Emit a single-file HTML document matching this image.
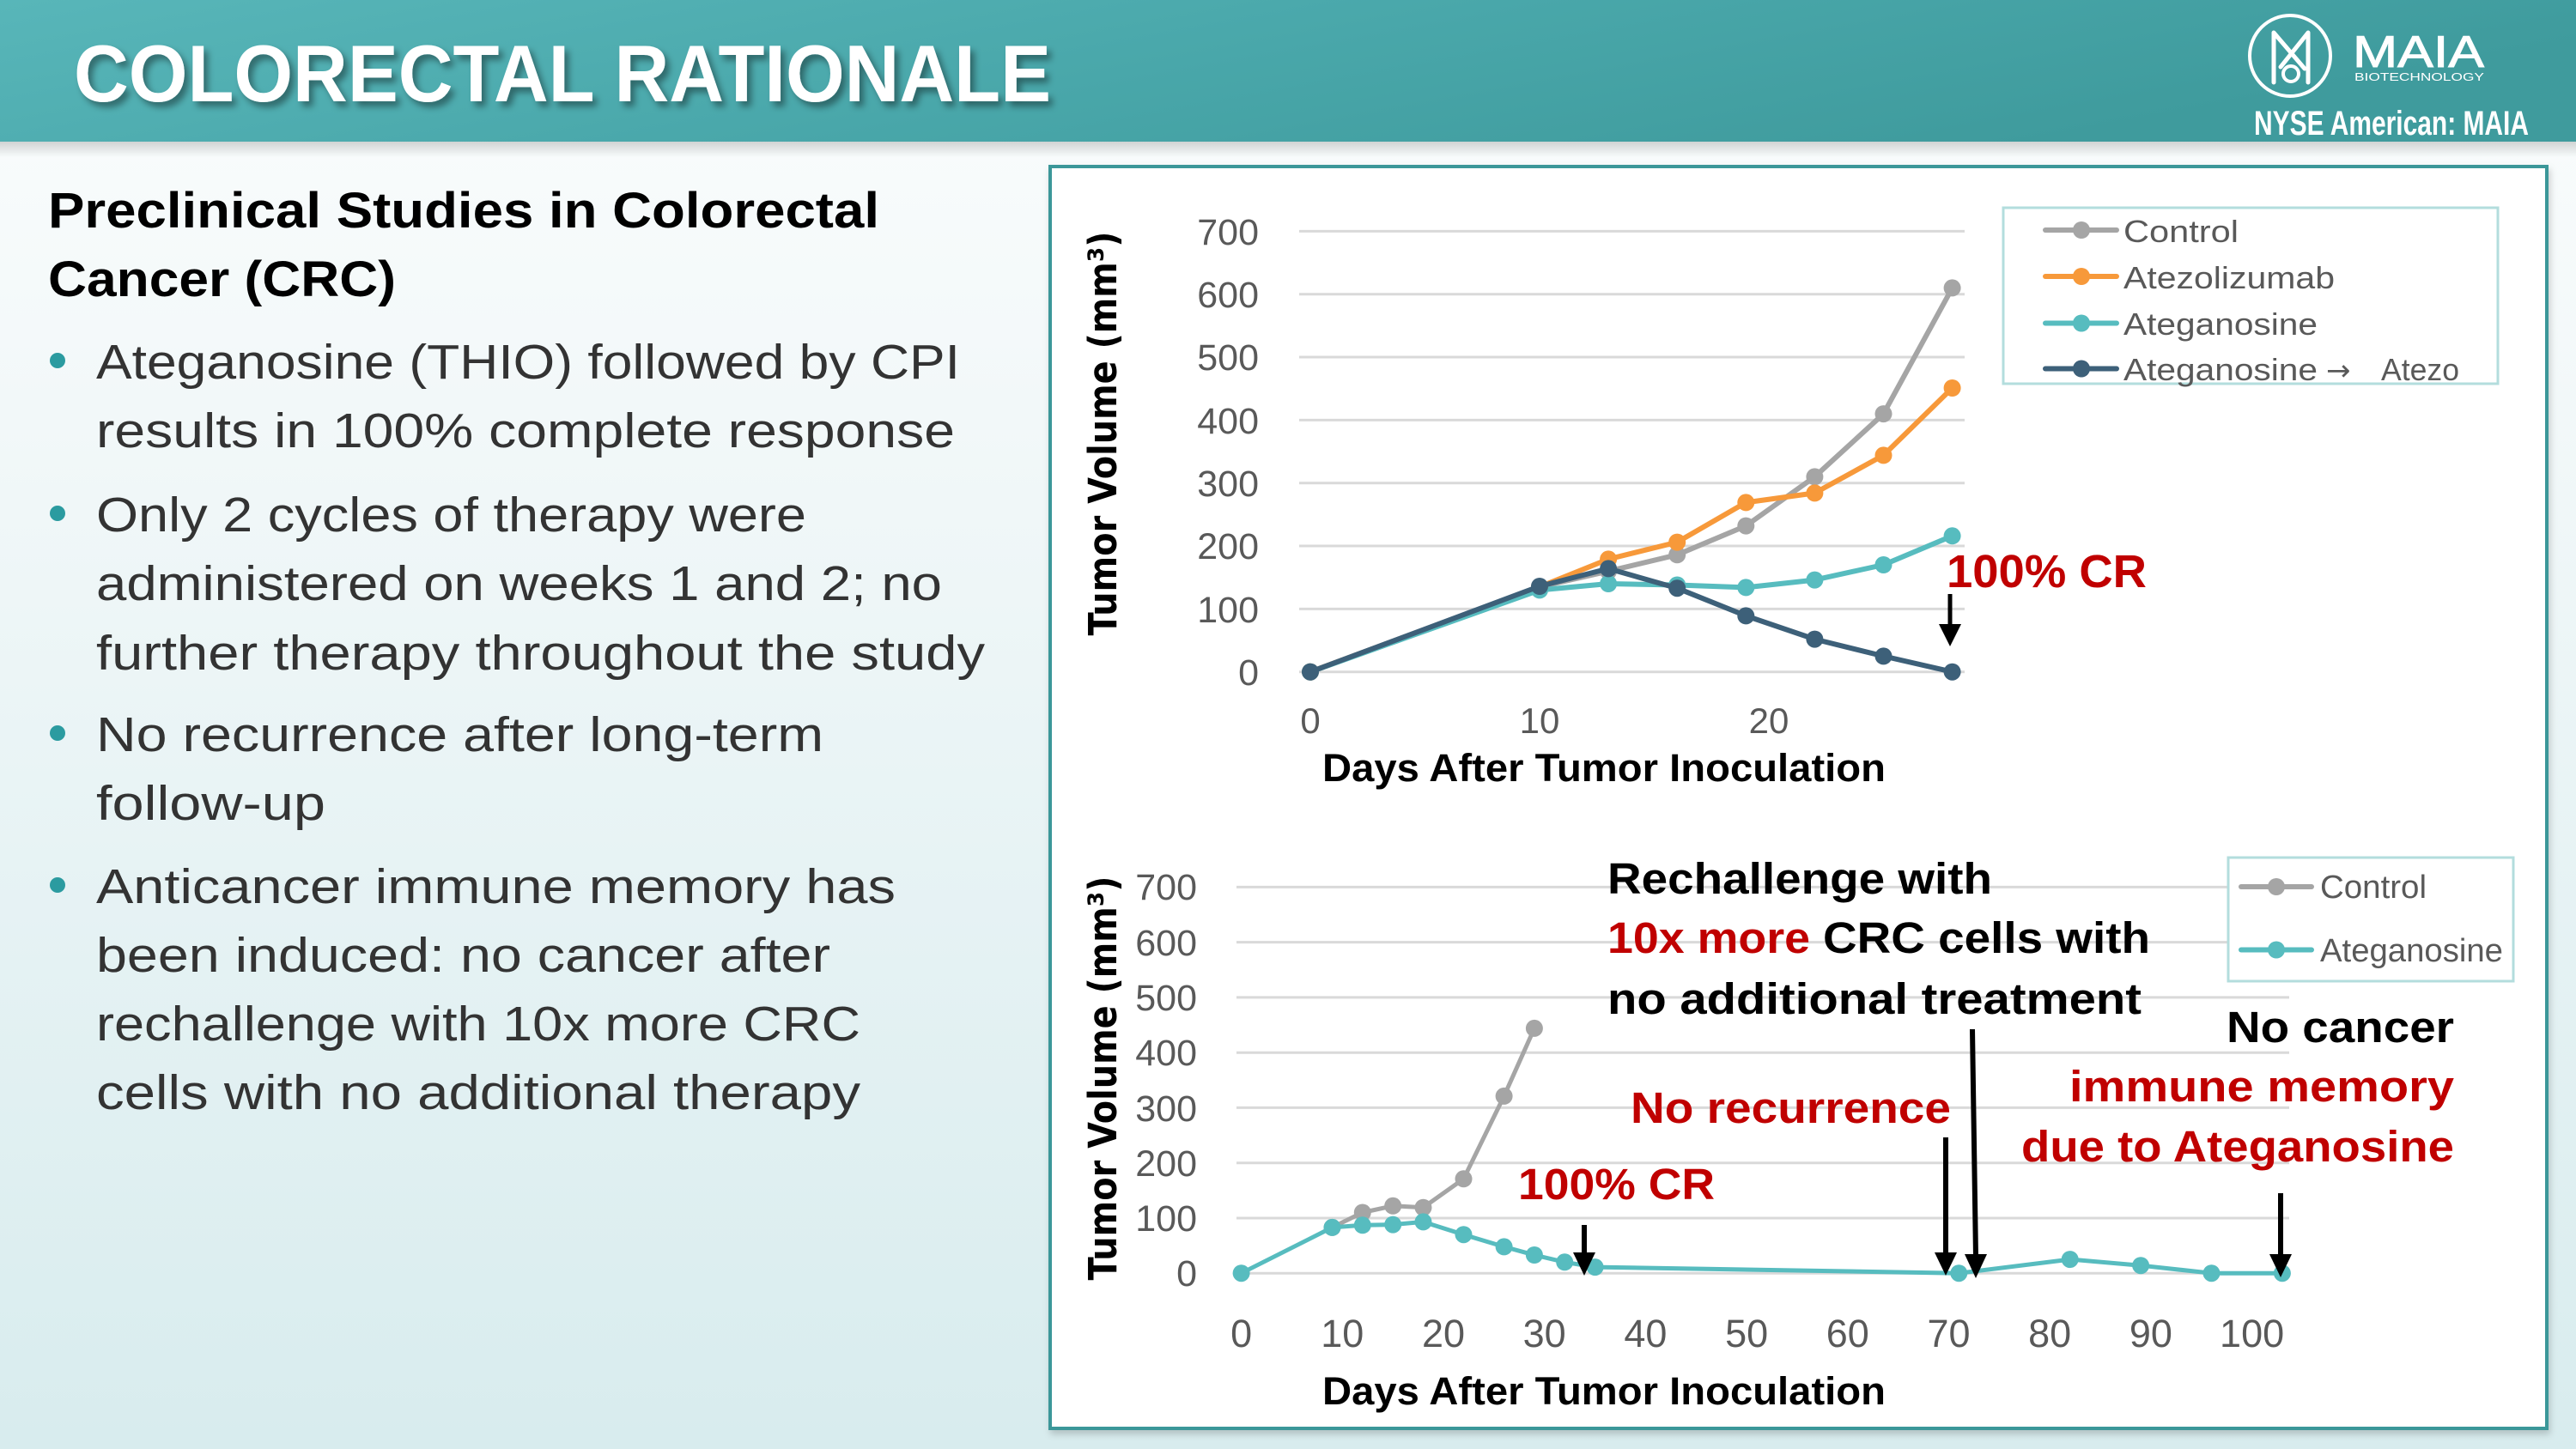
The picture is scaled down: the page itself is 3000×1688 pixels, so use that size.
<!DOCTYPE html>
<html>
<head>
<meta charset="utf-8">
<style>
html,body{margin:0;padding:0;width:3000px;height:1688px;overflow:hidden;background:#eef6f7;}
svg{display:block;}
text{font-family:"Liberation Sans",Arial,sans-serif;}
</style>
</head>
<body>
<svg width="3000" height="1688" viewBox="0 0 3000 1688" xmlns="http://www.w3.org/2000/svg">
<defs>
  <linearGradient id="bg" x1="0" y1="0" x2="0" y2="1">
    <stop offset="0" stop-color="#fbfdfd"/>
    <stop offset="0.35" stop-color="#f0f7f8"/>
    <stop offset="1" stop-color="#d8ecee"/>
  </linearGradient>
  <linearGradient id="hdr" x1="0" y1="0" x2="1" y2="0.3">
    <stop offset="0" stop-color="#58b6b9"/>
    <stop offset="0.5" stop-color="#4aa8ab"/>
    <stop offset="1" stop-color="#3f9b9d"/>
  </linearGradient>
  <linearGradient id="hsh" x1="0" y1="0" x2="0" y2="1">
    <stop offset="0" stop-color="#000" stop-opacity="0.16"/>
    <stop offset="1" stop-color="#000" stop-opacity="0"/>
  </linearGradient>
  <filter id="ts" x="-5%" y="-20%" width="110%" height="150%">
    <feDropShadow dx="5" dy="6" stdDeviation="4" flood-color="#000" flood-opacity="0.4"/>
  </filter>
  <filter id="bs" x="-2%" y="-2%" width="104%" height="104%">
    <feDropShadow dx="2" dy="5" stdDeviation="4" flood-color="#000" flood-opacity="0.18"/>
  </filter>
</defs>

<!-- page background -->
<rect x="0" y="0" width="3000" height="1688" fill="url(#bg)"/>

<!-- header -->
<rect x="0" y="0" width="3000" height="165" fill="url(#hdr)"/>
<rect x="0" y="165" width="3000" height="18" fill="url(#hsh)"/>
<text x="86" y="118" font-size="94" font-weight="bold" fill="#ffffff" textLength="1138" lengthAdjust="spacingAndGlyphs" filter="url(#ts)">COLORECTAL RATIONALE</text>

<!-- logo -->
<circle cx="2667" cy="65" r="47" fill="none" stroke="#ffffff" stroke-width="4"/>
<path d="M2648,96 L2648,38 L2684,80" fill="none" stroke="#ffffff" stroke-width="5" stroke-linejoin="round" stroke-linecap="round"/>
<path d="M2688,96 L2688,38 L2656,78" fill="none" stroke="#ffffff" stroke-width="5" stroke-linejoin="round" stroke-linecap="round"/>
<circle cx="2668" cy="86" r="9" fill="none" stroke="#ffffff" stroke-width="4"/>
<text x="2740" y="78" font-size="52" fill="#ffffff" stroke="#ffffff" stroke-width="1" textLength="153" lengthAdjust="spacingAndGlyphs">MAIA</text>
<text x="2742" y="94" font-size="13" fill="#ffffff" textLength="151" lengthAdjust="spacingAndGlyphs">BIOTECHNOLOGY</text>
<text x="2625" y="157" font-size="40" font-weight="bold" fill="#ffffff" textLength="320" lengthAdjust="spacingAndGlyphs">NYSE American: MAIA</text>

<!-- left text -->
<g font-weight="bold" fill="#000000" font-size="58">
  <text x="56" y="265" textLength="968" lengthAdjust="spacingAndGlyphs">Preclinical Studies in Colorectal</text>
  <text x="56" y="345" textLength="405" lengthAdjust="spacingAndGlyphs">Cancer (CRC)</text>
</g>
<g fill="#2b9ba0">
  <circle cx="67" cy="420" r="9"/>
  <circle cx="67" cy="598" r="9"/>
  <circle cx="67" cy="854" r="9"/>
  <circle cx="67" cy="1031" r="9"/>
</g>
<g fill="#333333" font-size="57">
  <text x="112" y="441" textLength="1006" lengthAdjust="spacingAndGlyphs">Ateganosine (THIO) followed by CPI</text>
  <text x="112" y="521" textLength="1000" lengthAdjust="spacingAndGlyphs">results in 100% complete response</text>
  <text x="112" y="619" textLength="827" lengthAdjust="spacingAndGlyphs">Only 2 cycles of therapy were</text>
  <text x="112" y="699" textLength="985" lengthAdjust="spacingAndGlyphs">administered on weeks 1 and 2; no</text>
  <text x="112" y="780" textLength="1035" lengthAdjust="spacingAndGlyphs">further therapy throughout the study</text>
  <text x="112" y="875" textLength="847" lengthAdjust="spacingAndGlyphs">No recurrence after long-term</text>
  <text x="112" y="955" textLength="267" lengthAdjust="spacingAndGlyphs">follow-up</text>
  <text x="112" y="1052" textLength="931" lengthAdjust="spacingAndGlyphs">Anticancer immune memory has</text>
  <text x="112" y="1132" textLength="855" lengthAdjust="spacingAndGlyphs">been induced: no cancer after</text>
  <text x="112" y="1212" textLength="890" lengthAdjust="spacingAndGlyphs">rechallenge with 10x more CRC</text>
  <text x="112" y="1292" textLength="890" lengthAdjust="spacingAndGlyphs">cells with no additional therapy</text>
</g>

<!-- chart box -->
<rect x="1223" y="194" width="1743" height="1470" fill="#ffffff" stroke="#3a9799" stroke-width="4" filter="url(#bs)"/>

<!-- ============ TOP CHART ============ -->
<g stroke="#d9d9d9" stroke-width="3">
  <line x1="1513" y1="782.7" x2="2288" y2="782.7"/>
  <line x1="1513" y1="709.4" x2="2288" y2="709.4"/>
  <line x1="1513" y1="636" x2="2288" y2="636"/>
  <line x1="1513" y1="562.7" x2="2288" y2="562.7"/>
  <line x1="1513" y1="489.4" x2="2288" y2="489.4"/>
  <line x1="1513" y1="416" x2="2288" y2="416"/>
  <line x1="1513" y1="342.7" x2="2288" y2="342.7"/>
  <line x1="1513" y1="269.4" x2="2288" y2="269.4"/>
</g>
<g fill="#595959" font-size="43" text-anchor="end">
  <text x="1466" y="798">0</text>
  <text x="1466" y="725">100</text>
  <text x="1466" y="651">200</text>
  <text x="1466" y="578">300</text>
  <text x="1466" y="505">400</text>
  <text x="1466" y="431">500</text>
  <text x="1466" y="358">600</text>
  <text x="1466" y="285">700</text>
</g>
<g fill="#595959" font-size="42" text-anchor="middle">
  <text x="1526" y="854">0</text>
  <text x="1793" y="854">10</text>
  <text x="2060" y="854">20</text>
</g>
<text x="1540" y="910" font-size="45" font-weight="bold" fill="#000" textLength="656" lengthAdjust="spacingAndGlyphs">Days After Tumor Inoculation</text>
<text transform="translate(1300,505) rotate(-90)" text-anchor="middle" font-size="45" font-weight="bold" fill="#000" textLength="471" lengthAdjust="spacingAndGlyphs" style="font-family:'DejaVu Sans','Liberation Sans',sans-serif">Tumor Volume (mm³)</text>

<!-- series -->
<g fill="none" stroke-width="6" stroke-linejoin="round">
  <polyline stroke="#a5a5a5" points="1526,782.7 1793,683.7 1873.1,665.4 1953.2,646.3 2033.3,612.6 2113.4,555.4 2193.5,482.1 2273.6,335.4"/>
  <polyline stroke="#f7993a" points="1526,782.7 1793,683.7 1873.1,651.4 1953.2,631.6 2033.3,585.4 2113.4,574.4 2193.5,530.4 2273.6,452"/>
  <polyline stroke="#57bcbf" points="1526,782.7 1793,687.4 1873.1,680 1953.2,681.5 2033.3,684.4 2113.4,675.6 2193.5,658 2273.6,624.3"/>
</g>
<g fill="#a5a5a5">
  <circle cx="1526" cy="782.7" r="10"/><circle cx="1793" cy="683.7" r="10"/><circle cx="1873.1" cy="665.4" r="10"/><circle cx="1953.2" cy="646.3" r="10"/><circle cx="2033.3" cy="612.6" r="10"/><circle cx="2113.4" cy="555.4" r="10"/><circle cx="2193.5" cy="482.1" r="10"/><circle cx="2273.6" cy="335.4" r="10"/>
</g>
<g fill="#f7993a">
  <circle cx="1526" cy="782.7" r="10"/><circle cx="1793" cy="683.7" r="10"/><circle cx="1873.1" cy="651.4" r="10"/><circle cx="1953.2" cy="631.6" r="10"/><circle cx="2033.3" cy="585.4" r="10"/><circle cx="2113.4" cy="574.4" r="10"/><circle cx="2193.5" cy="530.4" r="10"/><circle cx="2273.6" cy="452" r="10"/>
</g>
<g fill="#57bcbf">
  <circle cx="1526" cy="782.7" r="10"/><circle cx="1793" cy="687.4" r="10"/><circle cx="1873.1" cy="680" r="10"/><circle cx="1953.2" cy="681.5" r="10"/><circle cx="2033.3" cy="684.4" r="10"/><circle cx="2113.4" cy="675.6" r="10"/><circle cx="2193.5" cy="658" r="10"/><circle cx="2273.6" cy="624.3" r="10"/>
</g>
<polyline fill="none" stroke="#3d6079" stroke-width="6" stroke-linejoin="round" points="1526,782.7 1793,683 1873.1,662.4 1953.2,685.2 2033.3,717.4 2113.4,744.6 2193.5,764.4 2273.6,782.7"/>
<g fill="#3d6079">
  <circle cx="1526" cy="782.7" r="10"/><circle cx="1793" cy="683" r="10"/><circle cx="1873.1" cy="662.4" r="10"/><circle cx="1953.2" cy="685.2" r="10"/><circle cx="2033.3" cy="717.4" r="10"/><circle cx="2113.4" cy="744.6" r="10"/><circle cx="2193.5" cy="764.4" r="10"/><circle cx="2273.6" cy="782.7" r="10"/>
</g>

<!-- top annotation -->
<text x="2267" y="684" font-size="54" font-weight="bold" fill="#c00000" textLength="233" lengthAdjust="spacingAndGlyphs">100% CR</text>
<line x1="2271" y1="692" x2="2271" y2="730" stroke="#000" stroke-width="5"/>
<polygon points="2258,727 2284,727 2271,753" fill="#000"/>

<!-- top legend -->
<rect x="2333" y="242" width="576" height="205" fill="#ffffff" stroke="#b3dddd" stroke-width="3"/>
<g stroke-width="6" stroke-linecap="round">
  <line x1="2382" y1="268" x2="2465" y2="268" stroke="#a5a5a5"/>
  <line x1="2382" y1="322" x2="2465" y2="322" stroke="#f7993a"/>
  <line x1="2382" y1="376.5" x2="2465" y2="376.5" stroke="#57bcbf"/>
  <line x1="2382" y1="429.5" x2="2465" y2="429.5" stroke="#3d6079"/>
</g>
<circle cx="2424" cy="268" r="10" fill="#a5a5a5"/>
<circle cx="2424" cy="322" r="10" fill="#f7993a"/>
<circle cx="2424" cy="376.5" r="10" fill="#57bcbf"/>
<circle cx="2424" cy="429.5" r="10" fill="#3d6079"/>
<g fill="#595959" font-size="36">
  <text x="2473" y="282" textLength="134" lengthAdjust="spacingAndGlyphs">Control</text>
  <text x="2473" y="336" textLength="246" lengthAdjust="spacingAndGlyphs">Atezolizumab</text>
  <text x="2473" y="390" textLength="226" lengthAdjust="spacingAndGlyphs">Ateganosine</text>
  <text x="2473" y="443" textLength="226" lengthAdjust="spacingAndGlyphs">Ateganosine</text>
  <text x="2709" y="443" style="font-family:'DejaVu Sans',sans-serif" font-size="34">→</text>
  <text x="2773" y="443" textLength="91" lengthAdjust="spacingAndGlyphs">Atezo</text>
</g>

<!-- ============ BOTTOM CHART ============ -->
<g stroke="#d9d9d9" stroke-width="3">
  <line x1="1440" y1="1483.2" x2="2666" y2="1483.2"/>
  <line x1="1440" y1="1419" x2="2666" y2="1419"/>
  <line x1="1440" y1="1354.7" x2="2666" y2="1354.7"/>
  <line x1="1440" y1="1290.4" x2="2666" y2="1290.4"/>
  <line x1="1440" y1="1226.2" x2="2666" y2="1226.2"/>
  <line x1="1440" y1="1161.9" x2="2666" y2="1161.9"/>
  <line x1="1440" y1="1097.6" x2="2595" y2="1097.6"/>
  <line x1="1440" y1="1033.4" x2="2595" y2="1033.4"/>
</g>
<g fill="#595959" font-size="43" text-anchor="end">
  <text x="1394" y="1498">0</text>
  <text x="1394" y="1434">100</text>
  <text x="1394" y="1370">200</text>
  <text x="1394" y="1306">300</text>
  <text x="1394" y="1241">400</text>
  <text x="1394" y="1177">500</text>
  <text x="1394" y="1113">600</text>
  <text x="1394" y="1048">700</text>
</g>
<g fill="#595959" font-size="45" text-anchor="middle">
  <text x="1445.6" y="1569">0</text>
  <text x="1563.3" y="1569">10</text>
  <text x="1681" y="1569">20</text>
  <text x="1798.7" y="1569">30</text>
  <text x="1916.4" y="1569">40</text>
  <text x="2034.1" y="1569">50</text>
  <text x="2151.8" y="1569">60</text>
  <text x="2269.5" y="1569">70</text>
  <text x="2387.2" y="1569">80</text>
  <text x="2504.9" y="1569">90</text>
  <text x="2622.6" y="1569">100</text>
</g>
<text x="1540" y="1636" font-size="45" font-weight="bold" fill="#000" textLength="656" lengthAdjust="spacingAndGlyphs">Days After Tumor Inoculation</text>
<text transform="translate(1300,1256) rotate(-90)" text-anchor="middle" font-size="45" font-weight="bold" fill="#000" textLength="471" lengthAdjust="spacingAndGlyphs" style="font-family:'DejaVu Sans','Liberation Sans',sans-serif">Tumor Volume (mm³)</text>

<!-- bottom series -->
<polyline fill="none" stroke="#a5a5a5" stroke-width="5" stroke-linejoin="round" points="1551.5,1429.9 1586.8,1412.5 1622.2,1404.8 1657.5,1406.7 1704.5,1373.3 1751.6,1276.9 1786.9,1197.9"/>
<g fill="#a5a5a5">
  <circle cx="1551.5" cy="1429.9" r="10"/><circle cx="1586.8" cy="1412.5" r="10"/><circle cx="1622.2" cy="1404.8" r="10"/><circle cx="1657.5" cy="1406.7" r="10"/><circle cx="1704.5" cy="1373.3" r="10"/><circle cx="1751.6" cy="1276.9" r="10"/><circle cx="1786.9" cy="1197.9" r="10"/>
</g>
<polyline fill="none" stroke="#57bcbf" stroke-width="5" stroke-linejoin="round" points="1445.6,1483.2 1551.5,1429.9 1586.8,1427.3 1622.2,1426.6 1657.5,1423.4 1704.5,1438.2 1751.6,1452.4 1786.9,1462 1822.2,1470.3 1857.6,1476.1 2281.3,1483.2 2410.7,1467.1 2493.1,1474.2 2575.5,1483.2 2657.9,1483.2"/>
<g fill="#57bcbf">
  <circle cx="1445.6" cy="1483.2" r="10"/><circle cx="1551.5" cy="1429.9" r="10"/><circle cx="1586.8" cy="1427.3" r="10"/><circle cx="1622.2" cy="1426.6" r="10"/><circle cx="1657.5" cy="1423.4" r="10"/><circle cx="1704.5" cy="1438.2" r="10"/><circle cx="1751.6" cy="1452.4" r="10"/><circle cx="1786.9" cy="1462" r="10"/><circle cx="1822.2" cy="1470.3" r="10"/><circle cx="1857.6" cy="1476.1" r="10"/><circle cx="2281.3" cy="1483.2" r="10"/><circle cx="2410.7" cy="1467.1" r="10"/><circle cx="2493.1" cy="1474.2" r="10"/><circle cx="2575.5" cy="1483.2" r="10"/><circle cx="2657.9" cy="1483.2" r="10"/>
</g>

<!-- bottom annotations -->
<g font-size="51" font-weight="bold">
  <text x="1872" y="1041" fill="#000" textLength="448" lengthAdjust="spacingAndGlyphs">Rechallenge with</text>
  <text x="1872" y="1110" fill="#c00000" textLength="236" lengthAdjust="spacingAndGlyphs">10x more</text>
  <text x="2123" y="1110" fill="#000" textLength="381" lengthAdjust="spacingAndGlyphs">CRC cells with</text>
  <text x="1872" y="1181" fill="#000" textLength="622" lengthAdjust="spacingAndGlyphs">no additional treatment</text>
  <text x="1899" y="1308" fill="#c00000" textLength="373" lengthAdjust="spacingAndGlyphs">No recurrence</text>
  <text x="1768" y="1397" fill="#c00000" textLength="229" lengthAdjust="spacingAndGlyphs">100% CR</text>
  <text x="2593" y="1214" fill="#000" textLength="265" lengthAdjust="spacingAndGlyphs">No cancer</text>
  <text x="2410" y="1283" fill="#c00000" textLength="448" lengthAdjust="spacingAndGlyphs">immune memory</text>
  <text x="2354" y="1353" fill="#c00000" textLength="504" lengthAdjust="spacingAndGlyphs">due to Ateganosine</text>
</g>
<g stroke="#000" stroke-width="6">
  <line x1="1845" y1="1427" x2="1845" y2="1462"/>
  <line x1="2266" y1="1325" x2="2266" y2="1462"/>
  <line x1="2297" y1="1199" x2="2301" y2="1464"/>
  <line x1="2656" y1="1390" x2="2656" y2="1464"/>
</g>
<g fill="#000">
  <polygon points="1832,1459 1858,1459 1845,1486"/>
  <polygon points="2253,1459 2279,1459 2266,1486"/>
  <polygon points="2288,1461 2314,1461 2301,1489"/>
  <polygon points="2643,1461 2669,1461 2656,1488"/>
</g>

<!-- bottom legend -->
<rect x="2595" y="999" width="332" height="144" fill="#ffffff" stroke="#b3dddd" stroke-width="3"/>
<g stroke-width="6" stroke-linecap="round">
  <line x1="2610" y1="1033" x2="2692" y2="1033" stroke="#a5a5a5"/>
  <line x1="2610" y1="1106.5" x2="2692" y2="1106.5" stroke="#57bcbf"/>
</g>
<circle cx="2651" cy="1033" r="10" fill="#a5a5a5"/>
<circle cx="2651" cy="1106.5" r="10" fill="#57bcbf"/>
<g fill="#595959" font-size="38">
  <text x="2702" y="1046" textLength="124" lengthAdjust="spacingAndGlyphs">Control</text>
  <text x="2702" y="1120" textLength="213" lengthAdjust="spacingAndGlyphs">Ateganosine</text>
</g>
</svg>
</body>
</html>
